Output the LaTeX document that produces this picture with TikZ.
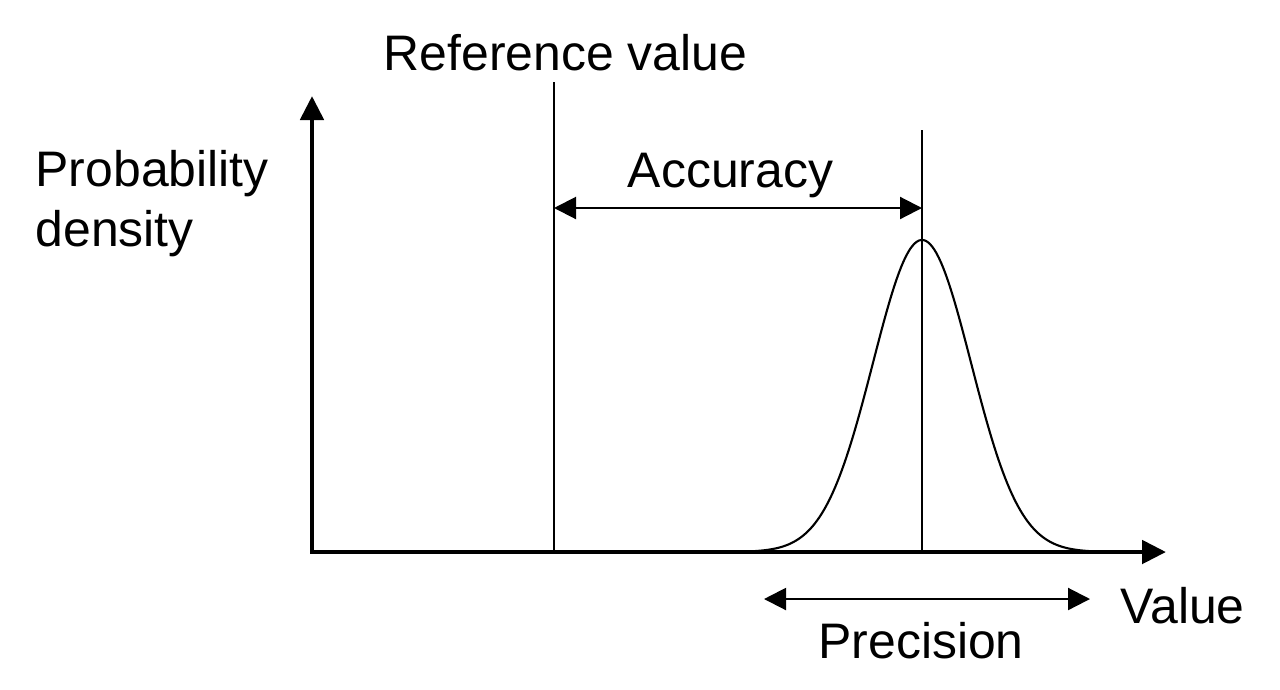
\documentclass[tikz,border=0pt]{standalone}
\usepackage{fontspec}
\setmainfont{Liberation Sans}
\usetikzlibrary{arrows.meta}

\begin{document}
\begin{tikzpicture}[font=\fontsize{14.2}{17.1}\selectfont,
  axis/.style={line width=1.4pt,{Triangle[length=0.24cm,width=0.23cm]}-{Triangle[length=0.24cm,width=0.23cm]}},
  guide/.style={line width=0.6pt},
  dimarrow/.style={line width=0.6pt,{Triangle[length=0.22cm,width=0.22cm]}-{Triangle[length=0.22cm,width=0.22cm]}}]
\useasboundingbox (0,0) rectangle (12.8,6.89);
\coordinate (o) at (3.12,1.37);
\coordinate (ytop) at (3.12,5.93);
\coordinate (xend) at (11.66,1.37);
\coordinate (r0) at (5.54,1.37);
\coordinate (r1) at (5.54,6.07);
\coordinate (m0) at (9.22,1.37);
\coordinate (m1) at (9.22,5.59);
\coordinate (a0) at (5.54,4.81);
\coordinate (a1) at (9.22,4.81);
\coordinate (p0) at (7.64,0.90);
\coordinate (p1) at (10.90,0.90);

\draw[guide] (r0) -- (r1);
\draw[guide] (m0) -- (m1);
\draw[guide,domain=7:11.4,samples=200] plot (\x,{1.37+3.12*exp(-((\x-9.22)^2)/(2*0.49^2))});
\draw[axis] (ytop) -- (o) -- (xend);
\draw[dimarrow] (a0) -- (a1);
\draw[dimarrow] (p0) -- (p1);

\node[anchor=base] (reflabel) at (5.655,6.19) {Reference value};
\node[anchor=base] (acclabel) at (7.305,5.02) {Accuracy};
\node[anchor=north west,inner sep=0pt,align=left] (ylabel) at (0.35,5.39) {Probability\\density};
\node[anchor=base west,inner sep=0pt] (xlabel) at (11.20,0.66) {Value};
\node[anchor=base] (prelabel) at (9.21,0.31) {Precision};
\end{tikzpicture}
\end{document}
